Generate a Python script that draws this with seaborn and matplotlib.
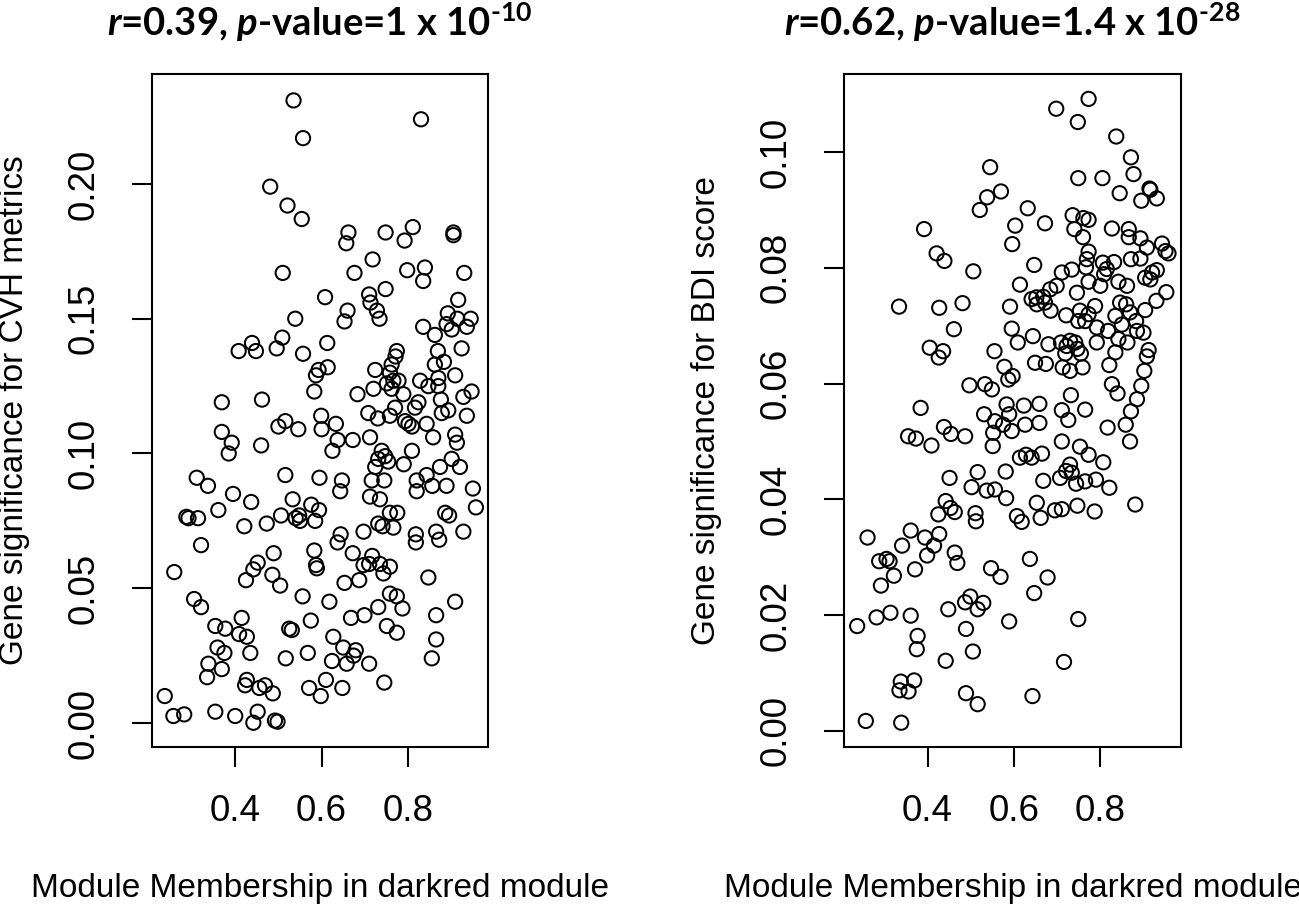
import numpy as np
import pandas as pd
import matplotlib
matplotlib.use("Agg")
import matplotlib.pyplot as plt
import seaborn as sns

# points: (module membership, gene significance)
cvh_points = [
    (0.535, 0.231), (0.830, 0.224), (0.557, 0.217), (0.481, 0.199), (0.521, 0.192),
    (0.554, 0.187), (0.662, 0.182), (0.657, 0.178), (0.748, 0.182), (0.811, 0.184),
    (0.792, 0.179), (0.905, 0.182), (0.905, 0.181), (0.718, 0.172), (0.510, 0.167),
    (0.676, 0.167), (0.798, 0.168), (0.839, 0.169), (0.835, 0.164), (0.930, 0.167),
    (0.748, 0.161), (0.608, 0.158), (0.710, 0.159), (0.713, 0.156), (0.728, 0.153),
    (0.734, 0.150), (0.660, 0.153), (0.653, 0.149), (0.539, 0.150), (0.916, 0.157),
    (0.835, 0.147), (0.892, 0.152), (0.914, 0.150), (0.889, 0.148), (0.901, 0.146),
    (0.862, 0.144), (0.936, 0.147), (0.945, 0.150),
    (0.408, 0.138), (0.439, 0.141), (0.448, 0.138), (0.496, 0.139), (0.509, 0.143),
    (0.557, 0.137), (0.613, 0.141), (0.774, 0.138), (0.771, 0.136), (0.869, 0.138),
    (0.924, 0.139), (0.614, 0.132), (0.593, 0.131), (0.587, 0.129), (0.583, 0.123),
    (0.724, 0.131), (0.762, 0.133), (0.758, 0.130), (0.862, 0.133), (0.883, 0.134),
    (0.909, 0.129), (0.870, 0.128), (0.828, 0.127), (0.847, 0.125), (0.870, 0.125),
    (0.766, 0.127), (0.751, 0.126), (0.778, 0.127), (0.762, 0.124), (0.789, 0.122),
    (0.683, 0.122), (0.720, 0.124), (0.824, 0.119), (0.876, 0.120), (0.928, 0.121),
    (0.947, 0.123),
    (0.369, 0.119), (0.462, 0.120), (0.770, 0.117), (0.816, 0.117), (0.878, 0.115),
    (0.893, 0.116), (0.708, 0.115), (0.730, 0.113), (0.758, 0.114), (0.599, 0.114),
    (0.793, 0.112), (0.809, 0.110), (0.843, 0.111), (0.801, 0.111), (0.936, 0.114),
    (0.516, 0.112), (0.500, 0.110), (0.546, 0.109), (0.633, 0.111), (0.600, 0.109),
    (0.369, 0.108), (0.392, 0.104), (0.385, 0.100), (0.460, 0.103), (0.637, 0.105),
    (0.625, 0.101), (0.672, 0.105), (0.712, 0.106), (0.858, 0.106), (0.909, 0.107),
    (0.913, 0.104), (0.809, 0.101), (0.739, 0.101), (0.747, 0.099), (0.731, 0.098),
    (0.754, 0.097), (0.790, 0.096), (0.724, 0.095), (0.901, 0.098), (0.920, 0.095),
    (0.874, 0.095),
    (0.311, 0.091), (0.337, 0.088), (0.516, 0.092), (0.595, 0.091), (0.647, 0.090),
    (0.643, 0.086), (0.716, 0.090), (0.745, 0.090), (0.712, 0.084), (0.735, 0.083),
    (0.820, 0.090), (0.843, 0.092), (0.820, 0.086), (0.856, 0.088), (0.889, 0.088),
    (0.950, 0.087), (0.395, 0.085), (0.437, 0.082), (0.533, 0.083), (0.576, 0.081),
    (0.594, 0.079), (0.292, 0.076), (0.287, 0.0765), (0.314, 0.076), (0.361, 0.079),
    (0.421, 0.073), (0.473, 0.074), (0.506, 0.077), (0.548, 0.077), (0.550, 0.075),
    (0.540, 0.076), (0.585, 0.075), (0.758, 0.078), (0.775, 0.078), (0.731, 0.074),
    (0.741, 0.073), (0.766, 0.0725), (0.886, 0.078), (0.895, 0.077), (0.928, 0.071),
    (0.818, 0.070), (0.818, 0.067), (0.865, 0.071), (0.872, 0.068), (0.957, 0.080),
    (0.697, 0.071), (0.644, 0.070), (0.637, 0.067), (0.321, 0.066), (0.259, 0.056),
    (0.489, 0.063), (0.452, 0.0595), (0.442, 0.057), (0.425, 0.053), (0.486, 0.055),
    (0.504, 0.051), (0.583, 0.064), (0.587, 0.0586), (0.589, 0.0574), (0.672, 0.063),
    (0.717, 0.062), (0.697, 0.0586), (0.710, 0.059), (0.735, 0.059), (0.758, 0.058),
    (0.743, 0.0555), (0.653, 0.052), (0.687, 0.053), (0.556, 0.047), (0.618, 0.045),
    (0.731, 0.043), (0.758, 0.048), (0.774, 0.047), (0.787, 0.0425), (0.847, 0.054),
    (0.909, 0.045), (0.865, 0.040), (0.865, 0.031), (0.855, 0.024),
    (0.668, 0.039), (0.699, 0.040), (0.751, 0.036), (0.774, 0.0335), (0.305, 0.046),
    (0.321, 0.043), (0.415, 0.039), (0.354, 0.036), (0.377, 0.035), (0.409, 0.033),
    (0.427, 0.032), (0.359, 0.028), (0.375, 0.026), (0.435, 0.026), (0.338, 0.022),
    (0.335, 0.017), (0.369, 0.020), (0.525, 0.035), (0.531, 0.0345), (0.575, 0.038),
    (0.517, 0.024), (0.568, 0.026), (0.627, 0.032), (0.650, 0.028), (0.679, 0.027),
    (0.674, 0.025), (0.658, 0.022), (0.624, 0.023), (0.710, 0.022), (0.745, 0.015),
    (0.427, 0.016), (0.423, 0.014), (0.456, 0.013), (0.469, 0.014), (0.487, 0.011),
    (0.571, 0.013), (0.598, 0.010), (0.610, 0.016), (0.648, 0.013), (0.237, 0.010),
    (0.257, 0.0026), (0.282, 0.0032), (0.354, 0.0042), (0.400, 0.0026), (0.442, 0.0001),
    (0.452, 0.0042), (0.492, 0.0009), (0.498, 0.0005),
]

bdi_points = [
    (0.698, 0.1075), (0.773, 0.1092), (0.748, 0.1052), (0.837, 0.1027), (0.871, 0.0991),
    (0.877, 0.0962), (0.749, 0.0955), (0.805, 0.0955), (0.845, 0.0929), (0.914, 0.0937),
    (0.916, 0.0935), (0.895, 0.0916), (0.931, 0.0920), (0.545, 0.0974), (0.570, 0.0932),
    (0.538, 0.0922), (0.521, 0.0900), (0.632, 0.0903), (0.672, 0.0877), (0.603, 0.0873),
    (0.596, 0.0841), (0.392, 0.0867), (0.421, 0.0825), (0.439, 0.0812), (0.506, 0.0794),
    (0.647, 0.0805), (0.614, 0.0771), (0.736, 0.0891), (0.761, 0.0886), (0.773, 0.0883),
    (0.740, 0.0867), (0.760, 0.0853), (0.773, 0.0828), (0.827, 0.0868), (0.866, 0.0867),
    (0.866, 0.0853), (0.893, 0.0851), (0.908, 0.0835), (0.943, 0.0842), (0.951, 0.0829),
    (0.958, 0.0825), (0.893, 0.0816), (0.871, 0.0815), (0.806, 0.0809), (0.832, 0.0810),
    (0.815, 0.0798), (0.809, 0.0789), (0.767, 0.0801), (0.769, 0.0815), (0.711, 0.0792),
    (0.734, 0.0797), (0.773, 0.0776), (0.800, 0.0769), (0.842, 0.0776), (0.862, 0.0769),
    (0.746, 0.0757), (0.904, 0.0783), (0.920, 0.0792), (0.931, 0.0796), (0.916, 0.0780),
    (0.953, 0.0758), (0.684, 0.0763), (0.699, 0.0769), (0.668, 0.0750), (0.652, 0.0749),
    (0.334, 0.0733), (0.427, 0.0731), (0.481, 0.0739), (0.461, 0.0694), (0.405, 0.0662),
    (0.436, 0.0656), (0.426, 0.0645), (0.591, 0.0733), (0.595, 0.0695), (0.609, 0.0671),
    (0.644, 0.0682), (0.555, 0.0656), (0.578, 0.0629), (0.597, 0.0613), (0.587, 0.0607),
    (0.649, 0.0636), (0.674, 0.0634), (0.680, 0.0668), (0.641, 0.0746), (0.653, 0.0737),
    (0.672, 0.0740), (0.685, 0.0726), (0.721, 0.0718), (0.753, 0.0726), (0.773, 0.0720),
    (0.788, 0.0734), (0.765, 0.0708), (0.749, 0.0708), (0.792, 0.0697), (0.818, 0.0691),
    (0.835, 0.0717), (0.846, 0.0740), (0.860, 0.0737), (0.850, 0.0702), (0.869, 0.0723),
    (0.883, 0.0708), (0.885, 0.0691), (0.900, 0.0688), (0.863, 0.0671), (0.842, 0.0677),
    (0.904, 0.0727), (0.930, 0.0743), (0.835, 0.0654), (0.730, 0.0674), (0.742, 0.0671),
    (0.722, 0.0665), (0.747, 0.0660), (0.719, 0.0652), (0.755, 0.0652), (0.792, 0.0671),
    (0.709, 0.0671), (0.713, 0.0628), (0.730, 0.0622), (0.759, 0.0628), (0.912, 0.0658),
    (0.908, 0.0647), (0.902, 0.0622), (0.895, 0.0596), (0.885, 0.0573), (0.871, 0.0552),
    (0.859, 0.0529), (0.869, 0.0500), (0.821, 0.0632), (0.827, 0.0599), (0.840, 0.0583),
    (0.817, 0.0524), (0.732, 0.0580), (0.711, 0.0554), (0.726, 0.0537), (0.765, 0.0555),
    (0.711, 0.0500), (0.753, 0.0491), (0.773, 0.0477), (0.807, 0.0464), (0.730, 0.0460),
    (0.721, 0.0449), (0.734, 0.0446), (0.707, 0.0437), (0.744, 0.0427), (0.765, 0.0431),
    (0.790, 0.0434), (0.821, 0.0420), (0.668, 0.0432), (0.881, 0.0391), (0.747, 0.0389),
    (0.787, 0.0379), (0.695, 0.0381), (0.711, 0.0383), (0.653, 0.0394), (0.662, 0.0368),
    (0.607, 0.0371), (0.618, 0.0361), (0.497, 0.0597), (0.533, 0.0599), (0.549, 0.0590),
    (0.384, 0.0558), (0.583, 0.0564), (0.623, 0.0562), (0.659, 0.0565), (0.531, 0.0547),
    (0.556, 0.0535), (0.575, 0.0529), (0.589, 0.0547), (0.552, 0.0515), (0.595, 0.0518),
    (0.626, 0.0529), (0.659, 0.0532), (0.355, 0.0509), (0.373, 0.0505), (0.409, 0.0493),
    (0.438, 0.0525), (0.454, 0.0513), (0.487, 0.0509), (0.551, 0.0492), (0.614, 0.0472),
    (0.628, 0.0477), (0.641, 0.0472), (0.665, 0.0479), (0.451, 0.0437), (0.516, 0.0447),
    (0.581, 0.0448), (0.502, 0.0421), (0.537, 0.0415), (0.556, 0.0417), (0.582, 0.0402),
    (0.442, 0.0397), (0.453, 0.0385), (0.463, 0.0378), (0.425, 0.0374), (0.511, 0.0376),
    (0.512, 0.0362), (0.261, 0.0334), (0.361, 0.0346), (0.394, 0.0334), (0.427, 0.0340),
    (0.415, 0.0320), (0.399, 0.0303), (0.341, 0.0320), (0.288, 0.0293), (0.305, 0.0297),
    (0.312, 0.0293), (0.322, 0.0268), (0.292, 0.0251), (0.371, 0.0279), (0.463, 0.0308),
    (0.469, 0.0290), (0.547, 0.0281), (0.569, 0.0266), (0.637, 0.0297), (0.678, 0.0265),
    (0.647, 0.0238), (0.499, 0.0232), (0.487, 0.0222), (0.516, 0.0210), (0.529, 0.0221),
    (0.448, 0.0210), (0.237, 0.0181), (0.282, 0.0196), (0.314, 0.0204), (0.361, 0.0199),
    (0.377, 0.0164), (0.375, 0.0141), (0.489, 0.0176), (0.589, 0.0189), (0.749, 0.0193),
    (0.442, 0.0121), (0.505, 0.0137), (0.716, 0.0119), (0.338, 0.0085), (0.369, 0.0087),
    (0.335, 0.0070), (0.356, 0.0068), (0.489, 0.0065), (0.516, 0.0046), (0.643, 0.0060),
    (0.257, 0.0017), (0.339, 0.0014),
]

cvh_title = r"$\mathit{r}$=0.39, $\mathit{p}$-value=1 x 10$^{\text{-10}}$"
bdi_title = r"$\mathit{r}$=0.62, $\mathit{p}$-value=1.4 x 10$^{\text{-28}}$"
x_label = "Module Membership in darkred module"
cvh_ylabel = "Gene significance for CVH metrics"
bdi_ylabel = "Gene significance for BDI score"
x_ticks = [0.4, 0.6, 0.8]
cvh_yticks = [0.00, 0.05, 0.10, 0.15, 0.20]
bdi_yticks = [0.00, 0.02, 0.04, 0.06, 0.08, 0.10]

sns.set_style("white")
plt.rcParams['font.family'] = ['Liberation Sans', 'DejaVu Sans']
plt.rcParams['mathtext.fontset'] = 'custom'
plt.rcParams['mathtext.rm'] = 'Lato:bold'
plt.rcParams['mathtext.it'] = 'Lato:italic:bold'
plt.rcParams['mathtext.bf'] = 'Lato:bold'
plt.rcParams['axes.edgecolor'] = 'black'
plt.rcParams['axes.linewidth'] = 1.5
plt.rcParams['text.color'] = 'black'
plt.rcParams['axes.labelcolor'] = 'black'

W, H = 1299, 911
fig = plt.figure(figsize=(W / 100, H / 100), dpi=100)
ax1 = fig.add_axes([152 / W, 1 - 747 / H, 336 / W, 673 / H])
ax2 = fig.add_axes([844 / W, 1 - 747 / H, 337 / W, 673 / H])


def draw_panel(ax, points, title, ylabel, yticks, xlim, ylim):
    df = pd.DataFrame(points, columns=["mm", "gs"])
    sns.scatterplot(data=df, x="mm", y="gs", ax=ax, marker="o", s=105,
                    facecolors="none", edgecolor="black", linewidth=1.45)
    ax.set_xlim(*xlim)
    ax.set_ylim(*ylim)
    ax.set_xticks(x_ticks)
    ax.set_xticklabels([f"{t:.1f}" for t in x_ticks])
    ax.set_yticks(yticks)
    ax.set_yticklabels([f"{t:.2f}" for t in yticks])
    ax.tick_params(axis="both", direction="out", length=14.5, width=1.5,
                   labelsize=26.5, colors="black", left=True, bottom=True)
    ax.tick_params(axis="x", pad=19)
    ax.tick_params(axis="y", pad=22, labelrotation=90)
    for lbl in ax.get_yticklabels():
        lbl.set_va("center")
    ax.set_xlabel(x_label, fontsize=24, color="black")
    ax.xaxis.set_label_coords(0.5, (747 - 873) / 673)
    ax.set_ylabel(ylabel, fontsize=24, color="black")
    ax.yaxis.set_label_coords((30 - 152) / 336, 0.5)
    ax.text(0.5, 1 + (73 - 35) / 673, title, transform=ax.transAxes,
            ha="center", va="baseline", fontsize=27.5, fontweight="bold",
            family="Lato", color="black")
    ax.grid(False)


draw_panel(ax1, cvh_points, cvh_title, cvh_ylabel, cvh_yticks,
           (0.2075, 0.985), (-0.0089, 0.2408))
draw_panel(ax2, bdi_points, bdi_title, bdi_ylabel, bdi_yticks,
           (0.2065, 0.987), (-0.0028, 0.1135))

fig.savefig("out.png", dpi=100)
